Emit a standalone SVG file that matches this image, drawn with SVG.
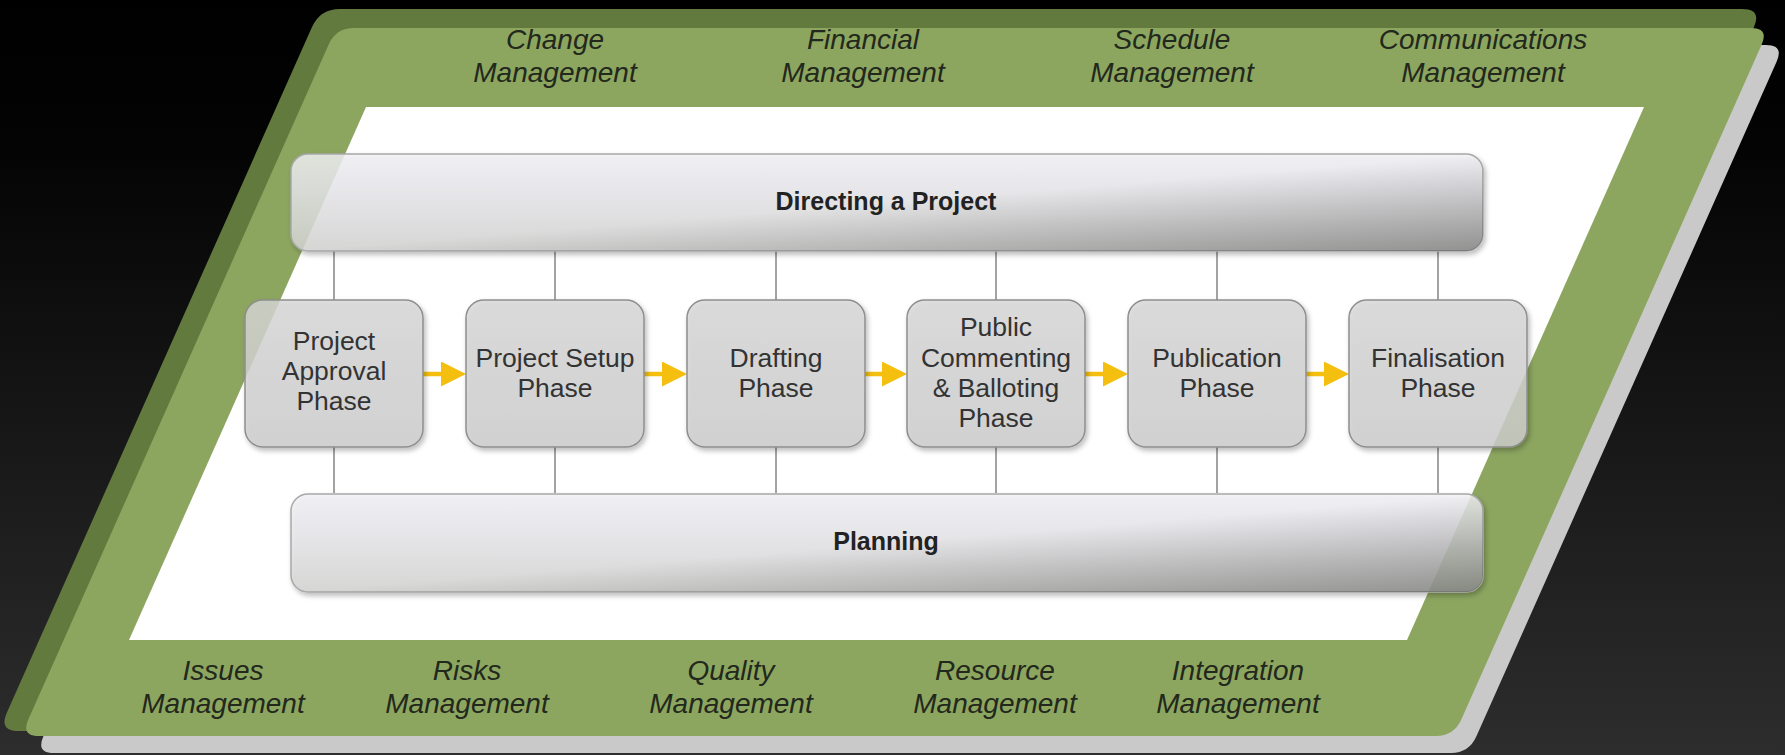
<svg xmlns="http://www.w3.org/2000/svg" width="1785" height="755" viewBox="0 0 1785 755">
  <defs>
    <linearGradient id="bgG" x1="0" y1="0" x2="0" y2="1">
      <stop offset="0" stop-color="#000"/>
      <stop offset="0.2" stop-color="#040404"/>
      <stop offset="1" stop-color="#2d2d2d"/>
    </linearGradient>
    <linearGradient id="barG" x1="0" y1="0" x2="0" y2="1">
      <stop offset="0" stop-color="#f2f2f6"/>
      <stop offset="0.4" stop-color="#e8e8ec"/>
      <stop offset="1" stop-color="#d4d4d2"/>
    </linearGradient>
    <linearGradient id="barShade" x1="0" y1="0" x2="1" y2="1">
      <stop offset="0" stop-color="#000" stop-opacity="0"/>
      <stop offset="0.5" stop-color="#000" stop-opacity="0"/>
      <stop offset="1" stop-color="#000" stop-opacity="0.32"/>
    </linearGradient>
    <linearGradient id="boxG" x1="0" y1="0" x2="0" y2="1">
      <stop offset="0" stop-color="#d8d8d8"/>
      <stop offset="1" stop-color="#cecece"/>
    </linearGradient>
    <filter id="sh" x="-5%" y="-10%" width="115%" height="135%">
      <feDropShadow dx="2" dy="3" stdDeviation="2.5" flood-color="#000" flood-opacity="0.3"/>
    </filter>
    <marker id="ah" viewBox="0 0 25 25" refX="5" refY="12.5" markerWidth="25" markerHeight="25" markerUnits="userSpaceOnUse" orient="auto">
      <path d="M0,0 L25,12.5 L0,25 Z" fill="#f5bf0f"/>
    </marker>
    <style>
      .box { fill: url(#boxG); fill-opacity: 0.8; stroke: #8e8e8c; stroke-width: 1.5; filter: url(#sh); }
      .bar { fill: url(#barG); fill-opacity: 0.82; stroke: #a8a8a8; stroke-width: 1.5; filter: url(#sh); }
      .barshade { fill: url(#barShade); stroke: none; }
      .pt { font-family: "Liberation Sans", Arial, sans-serif; font-size: 26.5px; fill: #333; text-anchor: middle; }
      .bt { font-family: "Liberation Sans", Arial, sans-serif; font-size: 25px; font-weight: bold; fill: #222; text-anchor: middle; }
      .gl { font-family: "Liberation Sans", Arial, sans-serif; font-size: 28px; font-style: italic; fill: #23281c; text-anchor: middle; }
      .conn { stroke: #a3a3a3; stroke-width: 2; fill: none; }
      .arrow { stroke: #f5bf0f; stroke-width: 4.5; fill: none; marker-end: url(#ah); }
    </style>
  </defs>

  <rect x="0" y="0" width="1785" height="755" fill="url(#bgG)"/>

  <g id="frame">
    <path d="M 343.7,61.4 Q 351,45 369,45 L 1766,45 Q 1784,45 1776.7,61.4 L 1476.3,736.6 Q 1469,753 1451,753 L 54,753 Q 36,753 43.3,736.6 Z" fill="#c9c9c9"/>
    <path d="M 311.9,27.3 Q 320,9 340,9 L 1742,9 Q 1762,9 1753.9,27.3 L 1448.8,712.7 Q 1440.7,731 1420.7,731 L 18.7,731 Q -1.3,731 6.8,712.7 Z" fill="#627a3e"/>
    <path d="M 328.7,44.4 Q 336,28 354,28 L 1751,28 Q 1769,28 1761.7,44.4 L 1461.3,719.6 Q 1454,736 1436,736 L 39,736 Q 21,736 28.3,719.6 Z" fill="#8ca660"/>
    <path d="M 366,107 L 1644,107 L 1407,640 L 129,640 Z" fill="#ffffff"/>
  </g>

  <g id="labels">
    <text class="gl" x="555" y="49">Change</text>
    <text class="gl" x="555" y="82">Management</text>
    <text class="gl" x="863" y="49">Financial</text>
    <text class="gl" x="863" y="82">Management</text>
    <text class="gl" x="1172" y="49">Schedule</text>
    <text class="gl" x="1172" y="82">Management</text>
    <text class="gl" x="1483" y="49">Communications</text>
    <text class="gl" x="1483" y="82">Management</text>
    <text class="gl" x="223" y="680">Issues</text>
    <text class="gl" x="223" y="713">Management</text>
    <text class="gl" x="467" y="680">Risks</text>
    <text class="gl" x="467" y="713">Management</text>
    <text class="gl" x="731" y="680">Quality</text>
    <text class="gl" x="731" y="713">Management</text>
    <text class="gl" x="995" y="680">Resource</text>
    <text class="gl" x="995" y="713">Management</text>
    <text class="gl" x="1238" y="680">Integration</text>
    <text class="gl" x="1238" y="713">Management</text>
  </g>

  <g id="connectors">
    <line class="conn" x1="334" y1="251" x2="334" y2="300"/>
    <line class="conn" x1="555" y1="251" x2="555" y2="300"/>
    <line class="conn" x1="776" y1="251" x2="776" y2="300"/>
    <line class="conn" x1="996" y1="251" x2="996" y2="300"/>
    <line class="conn" x1="1217" y1="251" x2="1217" y2="300"/>
    <line class="conn" x1="1438" y1="251" x2="1438" y2="300"/>
    <line class="conn" x1="334" y1="447" x2="334" y2="493"/>
    <line class="conn" x1="555" y1="447" x2="555" y2="493"/>
    <line class="conn" x1="776" y1="447" x2="776" y2="493"/>
    <line class="conn" x1="996" y1="447" x2="996" y2="493"/>
    <line class="conn" x1="1217" y1="447" x2="1217" y2="493"/>
    <line class="conn" x1="1438" y1="447" x2="1438" y2="493"/>
    <line class="arrow" x1="423" y1="374" x2="446" y2="374"/>
    <line class="arrow" x1="644" y1="374" x2="667" y2="374"/>
    <line class="arrow" x1="865" y1="374" x2="887" y2="374"/>
    <line class="arrow" x1="1085" y1="374" x2="1108" y2="374"/>
    <line class="arrow" x1="1306" y1="374" x2="1329" y2="374"/>
  </g>

  <g id="directing">
    <rect class="bar" x="291" y="154" width="1192" height="97" rx="17"/>
    <rect class="barshade" x="291" y="154" width="1192" height="97" rx="17"/>
    <text class="bt" x="886" y="210">Directing a Project</text>
  </g>

  <g id="planning">
    <rect class="bar" x="291" y="494" width="1192" height="98" rx="17"/>
    <rect class="barshade" x="291" y="494" width="1192" height="98" rx="17"/>
    <text class="bt" x="886" y="550">Planning</text>
  </g>

  <g id="phase-approval">
    <rect class="box" x="245" y="300" width="178" height="147" rx="18"/>
    <text class="pt" x="334" y="350">Project</text>
    <text class="pt" x="334" y="380">Approval</text>
    <text class="pt" x="334" y="410">Phase</text>
  </g>
  <g id="phase-setup">
    <rect class="box" x="466" y="300" width="178" height="147" rx="18"/>
    <text class="pt" x="555" y="367">Project Setup</text>
    <text class="pt" x="555" y="397">Phase</text>
  </g>
  <g id="phase-drafting">
    <rect class="box" x="687" y="300" width="178" height="147" rx="18"/>
    <text class="pt" x="776" y="367">Drafting</text>
    <text class="pt" x="776" y="397">Phase</text>
  </g>
  <g id="phase-commenting">
    <rect class="box" x="907" y="300" width="178" height="147" rx="18"/>
    <text class="pt" x="996" y="336">Public</text>
    <text class="pt" x="996" y="367">Commenting</text>
    <text class="pt" x="996" y="397">&amp; Balloting</text>
    <text class="pt" x="996" y="427">Phase</text>
  </g>
  <g id="phase-publication">
    <rect class="box" x="1128" y="300" width="178" height="147" rx="18"/>
    <text class="pt" x="1217" y="367">Publication</text>
    <text class="pt" x="1217" y="397">Phase</text>
  </g>
  <g id="phase-finalisation">
    <rect class="box" x="1349" y="300" width="178" height="147" rx="18"/>
    <text class="pt" x="1438" y="367">Finalisation</text>
    <text class="pt" x="1438" y="397">Phase</text>
  </g>
</svg>
